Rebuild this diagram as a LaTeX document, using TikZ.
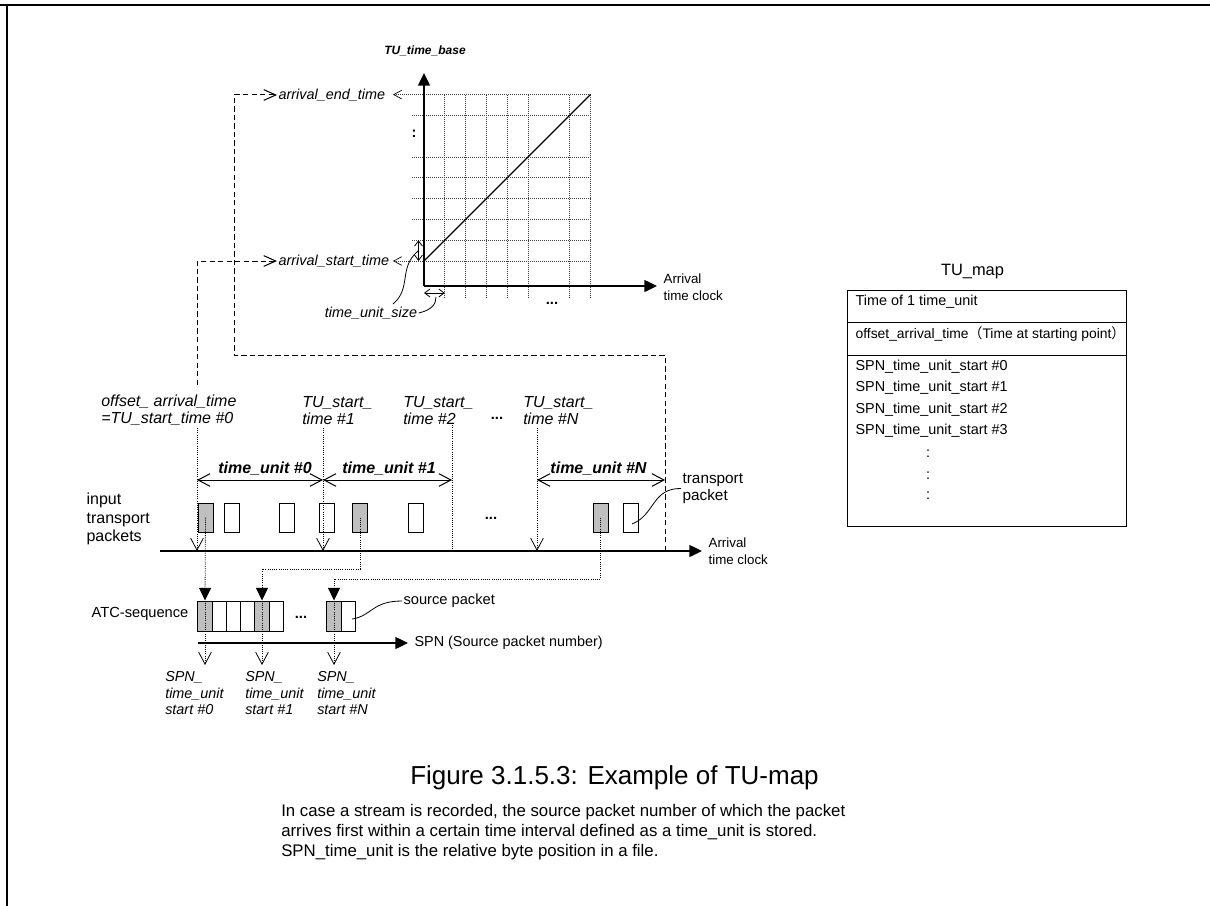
\documentclass[tikz,border=0pt]{standalone}
\usepackage{fontspec}
\setmainfont{Liberation Sans}
\newfontfamily\cjk{Noto Sans CJK JP}
\usetikzlibrary{arrows.meta,positioning,calc}

\tikzset{
  lbl/.style={font=\fontsize{10.8}{12.4}\selectfont\itshape, inner sep=1pt, align=left},
  biglbl/.style={font=\fontsize{12}{12.75}\selectfont\itshape, inner sep=0pt, align=left},
  unitlbl/.style={font=\fontsize{12}{14}\selectfont\bfseries\itshape, inner sep=0pt},
  txt/.style={font=\fontsize{11}{13}\selectfont, inner sep=1pt, align=left},
  ell/.style={font=\fontsize{11}{13}\selectfont\bfseries, inner sep=0pt},
  pkt/.style={draw, line width=0.75pt, minimum width=11.25pt, minimum height=21.75pt, inner sep=0pt},
  cell/.style={draw, line width=0.75pt, minimum width=10.7pt, minimum height=22.5pt, inner sep=0pt},
  grayfill/.style={fill=black!25},
  dotln/.style={line width=0.6pt, dash pattern=on 0.75pt off 0.9pt},
  dashln/.style={line width=0.75pt, dash pattern=on 4pt off 2.4pt},
  gridln/.style={black!75, line width=0.5pt, dash pattern=on 0.6pt off 0.9pt},
  axisln/.style={line width=1pt},
  openv/.tip={Straight Barb[length=9pt,width=9.5pt]},
  smallv/.tip={Straight Barb[length=6pt,width=6.5pt,color=black]},
  tinyv/.tip={Straight Barb[length=4pt,width=6pt]},
  fillv/.tip={Triangle[length=9.5pt,width=9pt]},
}

\begin{document}
\begin{tikzpicture}[x=0.75pt, y=-0.75pt]
\useasboundingbox (0,0) rectangle (1210,906);
% page frame
\draw[line width=1.6pt] (0,5) -- (1210,5);
\draw[line width=1.3pt] (7,5) -- (7,906);

% TU_time_base graph
\foreach \k in {1,...,5,7}
  \draw[gridln] (412,{261-20.8*\k}) -- (590.4,{261-20.8*\k});
\foreach \k in {1,...,5,7,8}
  \draw[gridln] ({424+20.8*\k},94.6) -- ({424+20.8*\k},297);
\coordinate (org) at (424,286);
\coordinate (ytop) at (424,73);
\coordinate (xend) at (657,286);
\coordinate (g0) at (424,261);
\coordinate (g1) at (590.4,94.6);
\coordinate (e0) at (393,94.6);
\coordinate (s0) at (393,261);
\draw[gridln, smallv-] (e0) -- (g1);
\draw[gridln, smallv-] (s0) -- (g1 |- g0);
\draw[axisln, -fillv] (org) -- (ytop);
\draw[axisln, -fillv] (org) -- (xend);
\draw[line width=0.9pt] (g0) -- (g1);
\node[font=\fontsize{9}{11}\selectfont\bfseries\itshape] (tub) at (425,51) {TU\_time\_base};
\node[lbl, anchor=west] (aend) at (277,95) {arrival\_end\_time};
\node[lbl, anchor=west] (astart) at (277,261) {arrival\_start\_time};
\node[ell] (vdots) at (414,134) {:};
\node[ell] (hdots) at (552,303) {...};
\node[txt, anchor=west, font=\fontsize{10}{12.5}\selectfont] (xlab) at (662,287) {Arrival\\time clock};

% time_unit_size
\node[lbl] (tus) at (371,313) {time\_unit\_size};
\draw[line width=0.6pt, tinyv-tinyv] (418.5,240.2) -- (418.5,261);
\draw[line width=0.6pt, tinyv-tinyv] (424,293) -- (444.8,293);
\draw[line width=0.6pt] (393,304) .. controls (412,288) and (398,268) .. (418,251);
\draw[line width=0.6pt] (tus.east) .. controls (432,310) and (436,304) .. (436,297);

% dashed links to the time axis
\coordinate (t0) at (197,551);
\coordinate (t1) at (323,551);
\coordinate (t2) at (452,551);
\coordinate (tn) at (537,551);
\coordinate (te) at (665,551);
\draw[dashln, -{Straight Barb[length=9pt,width=8pt]}] (te) -- (665,355) -- (234,355) -- (234,95) -- (aend.west);
\draw[dashln, -{Straight Barb[length=9pt,width=8pt]}] (197,385) -- (197,261) -- (astart.west);

% TU start times
\node[biglbl, anchor=west] (off) at (101,410.5) {offset\_ arrival\_time\\=TU\_start\_time \#0};
\node[biglbl, anchor=west] (ts1) at (302,410.5) {TU\_start\_\\time \#1};
\node[biglbl, anchor=west] (ts2) at (403,410.5) {TU\_start\_\\time \#2};
\node[biglbl, anchor=west] (tsn) at (523,410.5) {TU\_start\_\\time \#N};
\node[ell] (tdots) at (497,418) {...};
\draw[dotln, -openv] (197,428) -- (t0);
\draw[dotln, -openv] (323,428) -- (t1);
\draw[dotln] (452,423) -- (t2);
\draw[dotln, -openv] (537,428) -- (tn);

% time units
\draw[line width=0.75pt, openv-openv] (197,480) -- (323,480);
\draw[line width=0.75pt, openv-openv] (323,480) -- (452,480);
\draw[line width=0.75pt, openv-openv] (537,480) -- (665,480);
\node[unitlbl] (u0) at (265,469) {time\_unit \#0};
\node[unitlbl] (u1) at (389,469) {time\_unit \#1};
\node[unitlbl] (un) at (598.5,469) {time\_unit \#N};

% input transport packets
\node[txt, anchor=west, font=\fontsize{12}{13.9}\selectfont] (inp) at (85,519) {input\\transport\\packets};
\node[pkt, grayfill] (p1) at (205.5,517.5) {};
\node[pkt] (p2) at (231.5,517.5) {};
\node[pkt] (p3) at (286.5,517.5) {};
\node[pkt] (p4) at (326.5,517.5) {};
\node[pkt, grayfill] (p5) at (360,517.5) {};
\node[pkt] (p6) at (415.5,517.5) {};
\node[ell] (pdots) at (491,518) {...};
\node[pkt, grayfill] (p7) at (600.5,517.5) {};
\node[pkt] (p8) at (630.5,517.5) {};
\node[txt, anchor=west, font=\fontsize{11.5}{12.75}\selectfont] (trp) at (681,488.5) {transport\\packet};
\draw[line width=0.6pt] (632,524) .. controls (655,515) and (652,488) .. (trp.west);

% arrival time clock
\coordinate (ax0) at (160,551);
\coordinate (ax1) at (702,551);
\draw[axisln, -fillv] (ax0) -- (ax1);
\node[txt, anchor=west, font=\fontsize{10}{12.5}\selectfont] (atc) at (707,551) {Arrival\\time clock};

% ATC-sequence
\node[txt, anchor=east] (atcl) at (190,614) {ATC-sequence};
\foreach \i in {0,...,5}
  \node[cell] (c\i) at ({205+14.25*\i},616) {};
\node[cell, grayfill] at (c0) {};
\node[cell, grayfill] at (c4) {};
\node[ell] (cdots) at (301,617) {...};
\node[cell, grayfill] (c6) at (334,616) {};
\node[cell] (c7) at (348.3,616) {};
\node[txt, anchor=west] (spl) at (402,601) {source packet};
\draw[line width=0.6pt] (352,619) .. controls (372,616) and (372,601) .. (spl.west);

% packet links
\coordinate (j5) at (360,569);
\coordinate (j7) at (600.5,579);
\draw[dotln, -fillv] (p1.center) -- (c0.north);
\draw[dotln, -fillv] (p5.center) -- (j5) -| (c4.north);
\draw[dotln, -fillv] (p7.center) -- (j7) -| (c6.north);
\draw[dotln, -openv] (c0.north) -- (205,665);
\draw[dotln, -openv] (c4.north) -- (262,665);
\draw[dotln, -openv] (c6.north) -- (334,665);

% SPN axis
\draw[axisln, -fillv] (198,643) -- (408,643);
\node[txt, anchor=west, font=\fontsize{10.8}{13}\selectfont] (spn) at (413,643) {SPN (Source packet number)};
\node[lbl, anchor=west, inner sep=0pt] (sp0) at (165,693.5) {SPN\_\\time\_unit\\start \#0};
\node[lbl, anchor=west, inner sep=0pt] (sp1) at (245,693.5) {SPN\_\\time\_unit\\start \#1};
\node[lbl, anchor=west, inner sep=0pt] (spN) at (317,693.5) {SPN\_\\time\_unit\\start \#N};

% TU_map table
\node[font=\fontsize{12.3}{14}\selectfont] (tum) at (972.5,272) {TU\_map};
\coordinate (tb0) at (847.7,290);
\coordinate (tb1) at (1126.7,526);
\draw[line width=0.75pt] (tb0) rectangle (tb1);
\draw[line width=0.75pt] (847.7,322.3) -- (1126.7,322.3);
\draw[line width=0.75pt] (847.7,355) -- (1126.7,355);
\node[lbl, font=\fontsize{10.8}{13}\selectfont, anchor=west] (r0) at (854,302) {Time of 1 time\_unit};
\node[lbl, font=\fontsize{10.4}{13}\selectfont, anchor=west] (r1) at (854,334) {offset\_arrival\_time{\cjk （}Time at starting point{\cjk ）}};
\foreach \n/\y in {0/367,1/388,2/409.5,3/431}
  \node[lbl, font=\fontsize{10.8}{13}\selectfont, anchor=west] (s\n) at (854,\y) {SPN\_time\_unit\_start \#\n};
\foreach \y in {454,476,496}
  \node[font=\fontsize{10.8}{13}\selectfont] at (928,\y) {:};

% caption and note
\node[font=\fontsize{19.5}{22}\selectfont] (cap) at (614.5,778) {Figure 3.1.5.3: Example of TU-map};
\node[anchor=west, align=left, inner sep=0pt, font=\fontsize{12.6}{15}\selectfont] (note) at (281,832)
  {In case a stream is recorded, the source packet number of which the packet\\
   arrives first within a certain time interval defined as a time\_unit is stored.\\
   SPN\_time\_unit is the relative byte position in a file.};
\end{tikzpicture}
\end{document}
